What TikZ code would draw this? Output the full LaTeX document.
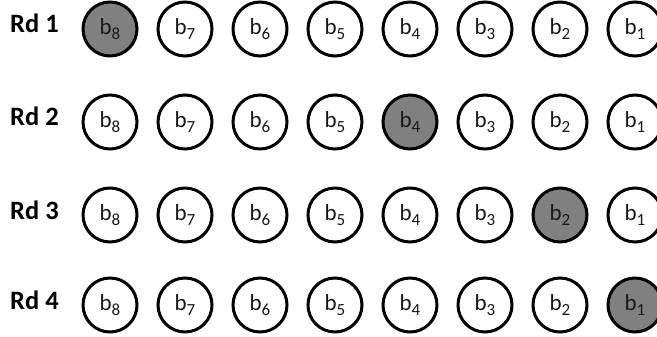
\documentclass[tikz,border=0pt]{standalone}
\usepackage{fontspec}
\setmainfont{Carlito}
\usepackage{tikz}
\newcommand{\bit}[1]{b\raisebox{-4.5pt}{\fontsize{17pt}{17pt}\selectfont #1}}
\begin{document}
\begin{tikzpicture}[x=1pt,y=1pt]
\tikzset{bitnode/.style={draw,circle,line width=3pt,minimum size=54pt,inner sep=0pt,fill=white,text=black!90,font=\fontsize{23pt}{23pt}\selectfont},
hitnode/.style={bitnode,fill=black!50},
rdlabel/.style={anchor=base west,inner sep=0pt,font=\fontsize{26.5pt}{26.5pt}\selectfont\bfseries}}
\useasboundingbox (0,0) rectangle (657,337);

\node (rd1) at (10,304) [rdlabel] {Rd 1};
\node (r1b8) at (110,308) [hitnode] {\bit{8}};
\node (r1b7) at (185,308) [bitnode] {\bit{7}};
\node (r1b6) at (260,308) [bitnode] {\bit{6}};
\node (r1b5) at (335,308) [bitnode] {\bit{5}};
\node (r1b4) at (410,308) [bitnode] {\bit{4}};
\node (r1b3) at (485,308) [bitnode] {\bit{3}};
\node (r1b2) at (560,308) [bitnode] {\bit{2}};
\node (r1b1) at (635,308) [bitnode] {\bit{1}};

\node (rd2) at (10,211) [rdlabel] {Rd 2};
\node (r2b8) at (110,215) [bitnode] {\bit{8}};
\node (r2b7) at (185,215) [bitnode] {\bit{7}};
\node (r2b6) at (260,215) [bitnode] {\bit{6}};
\node (r2b5) at (335,215) [bitnode] {\bit{5}};
\node (r2b4) at (410,215) [hitnode] {\bit{4}};
\node (r2b3) at (485,215) [bitnode] {\bit{3}};
\node (r2b2) at (560,215) [bitnode] {\bit{2}};
\node (r2b1) at (635,215) [bitnode] {\bit{1}};

\node (rd3) at (10,117) [rdlabel] {Rd 3};
\node (r3b8) at (110,122) [bitnode] {\bit{8}};
\node (r3b7) at (185,122) [bitnode] {\bit{7}};
\node (r3b6) at (260,122) [bitnode] {\bit{6}};
\node (r3b5) at (335,122) [bitnode] {\bit{5}};
\node (r3b4) at (410,122) [bitnode] {\bit{4}};
\node (r3b3) at (485,122) [bitnode] {\bit{3}};
\node (r3b2) at (560,122) [hitnode] {\bit{2}};
\node (r3b1) at (635,122) [bitnode] {\bit{1}};

\node (rd4) at (10,27) [rdlabel] {Rd 4};
\node (r4b8) at (110,32) [bitnode] {\bit{8}};
\node (r4b7) at (185,32) [bitnode] {\bit{7}};
\node (r4b6) at (260,32) [bitnode] {\bit{6}};
\node (r4b5) at (335,32) [bitnode] {\bit{5}};
\node (r4b4) at (410,32) [bitnode] {\bit{4}};
\node (r4b3) at (485,32) [bitnode] {\bit{3}};
\node (r4b2) at (560,32) [bitnode] {\bit{2}};
\node (r4b1) at (635,32) [hitnode] {\bit{1}};
\end{tikzpicture}
\end{document}
